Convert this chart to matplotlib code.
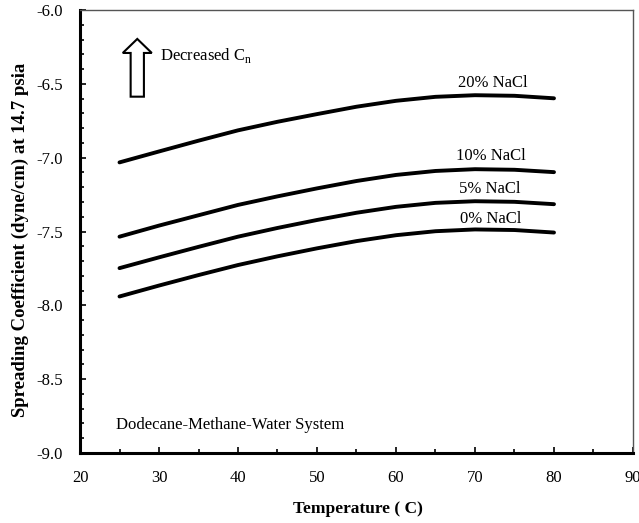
import matplotlib
matplotlib.use("Agg")
import matplotlib.pyplot as plt
from matplotlib.ticker import MultipleLocator, FormatStrFormatter
from matplotlib.patches import FancyArrow

plt.rcParams['font.family'] = ['Liberation Serif', 'DejaVu Serif']
plt.rcParams['mathtext.fontset'] = 'custom'
plt.rcParams['mathtext.rm'] = 'Liberation Serif'

# Temperature (C)
temperature = [25, 30, 35, 40, 45, 50, 55, 60, 65, 70, 75, 80]

# Spreading coefficient (dyne/cm) at 14.7 psia for each brine salinity
s_20 = [-7.032, -6.958, -6.885, -6.815, -6.757, -6.705, -6.655, -6.615, -6.588, -6.577, -6.581, -6.598]
s_10 = [-7.535, -7.460, -7.390, -7.320, -7.262, -7.208, -7.158, -7.117, -7.090, -7.078, -7.082, -7.098]
s_5 = [-7.748, -7.675, -7.604, -7.535, -7.476, -7.422, -7.373, -7.333, -7.306, -7.295, -7.299, -7.315]
s_0 = [-7.940, -7.866, -7.795, -7.727, -7.668, -7.614, -7.565, -7.525, -7.498, -7.486, -7.490, -7.507]

series = [s_20, s_10, s_5, s_0]
labels = ["20% NaCl", "10% NaCl", "5% NaCl", "0% NaCl"]
label_x = [72.2, 72.0, 71.9, 72.0]
label_y = [-6.494, -6.989, -7.214, -7.415]

FS = 12

fig = plt.figure(figsize=(6.39, 5.23), dpi=100)
ax = fig.add_axes([0.1252, 0.1338, 0.8654, 0.8471])

for vals in series:
    ax.plot(temperature, vals, color='black', lw=2.8, solid_capstyle='round')

for lab, lx, ly in zip(labels, label_x, label_y):
    ax.text(lx, ly, lab, ha='center', va='center', fontsize=FS)

ax.set_xlim(20, 90)
ax.set_ylim(-9.0, -6.0)
ax.xaxis.set_major_locator(MultipleLocator(10))
ax.xaxis.set_minor_locator(MultipleLocator(5))
ax.yaxis.set_major_locator(MultipleLocator(0.5))
ax.yaxis.set_minor_locator(MultipleLocator(0.1))
ax.yaxis.set_major_formatter(FormatStrFormatter('%.1f'))
ax.tick_params(which='both', direction='in', top=False, right=False, labelsize=FS, width=1.2)
ax.tick_params(which='major', length=4)
ax.tick_params(which='minor', length=3)
ax.tick_params(axis='x', pad=12.5)
ax.tick_params(axis='y', pad=12.5)

ax.spines['left'].set_linewidth(2.2)
ax.spines['bottom'].set_linewidth(2.2)
for side in ('top', 'right'):
    ax.spines[side].set_linewidth(1.0)
    ax.spines[side].set_color('#555555')

ax.set_xlabel("Temperature ( C)", fontsize=FS + 0.5, fontweight='bold', va='center')
ax.xaxis.set_label_coords(0.502, -0.1264)
ax.set_ylabel("Spreading Coefficient (dyne/cm) at 14.7 psia", fontsize=13.5, fontweight='bold',
              va='center')
ax.yaxis.set_label_coords(-0.1085, 0.481)

# Hollow block arrow with its note
arrow = FancyArrow(27.25, -6.587, 0, 0.391, width=1.68, head_width=3.67,
                   head_length=0.095, length_includes_head=True,
                   facecolor='white', edgecolor='black', lw=1.5)
ax.add_patch(arrow)
ax.text(30.1, -6.305, r"Decreased C$_\mathrm{n}$", ha='left', va='center', fontsize=FS)

ax.text(24.6, -8.81, "Dodecane-Methane-Water System", ha='left', va='center', fontsize=FS)

fig.savefig("out.png", dpi=100)
